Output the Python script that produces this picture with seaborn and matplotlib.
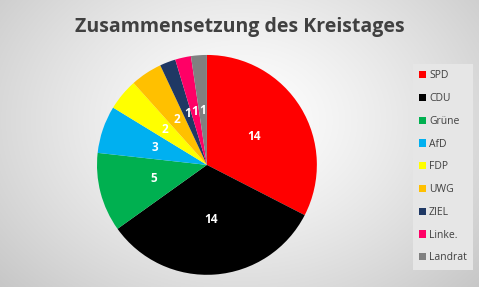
import numpy as np
import matplotlib
matplotlib.use("Agg")
import matplotlib.pyplot as plt
import seaborn as sns

parties = ["SPD", "CDU", "Grüne", "AfD", "FDP", "UWG", "ZIEL", "Linke.", "Landrat"]
seats = [14, 14, 5, 3, 2, 2, 1, 1, 1]
colors = ["#FF0000", "#000000", "#00B050", "#00B0F0", "#FFFF00",
          "#FFC000", "#1F3864", "#FF0066", "#808080"]
title = "Zusammensetzung des Kreistages"

sns.set_theme(style="white")
plt.rcParams['font.family'] = ['Open Sans', 'DejaVu Sans']
palette = sns.color_palette(colors)

fig = plt.figure(figsize=(4.79, 2.87), dpi=100)

# radial gradient background
bg = fig.add_axes([0, 0, 1, 1])
h, w = 287, 479
yy, xx = np.mgrid[0:h, 0:w]
cx, cy = 240, 120
d = np.sqrt(((xx - cx) / 300.0) ** 2 + ((yy - cy) / 230.0) ** 2)
val = 1.0 - 0.20 * np.clip(d, 0, 1.3) ** 1.3
img = np.dstack([val, val, val])
bg.imshow(img, aspect="auto", extent=[0, 1, 0, 1], origin="upper")
bg.set_axis_off()

fig.text(0.5, 0.905, title, ha="center", va="center", fontsize=14,
         fontweight="bold", color="#404040")

ax = fig.add_axes([0.2025, 0.042, 0.459, 0.767])
wedges, texts = ax.pie(seats, colors=palette, startangle=90, counterclock=False,
                       labels=[str(s) for s in seats], labeldistance=0.5,
                       textprops=dict(color="white", fontweight="bold", fontsize=8.5),
                       wedgeprops=dict(linewidth=0))
for t in texts:
    t.set_ha("center")
    t.set_va("center")
ax.set_aspect("equal")
ax.set_xlim(-1, 1)
ax.set_ylim(-1, 1)

leg = fig.legend(wedges, parties, loc="upper left", bbox_to_anchor=(0.862, 0.777),
                 fontsize=7.5, frameon=True, handlelength=0.7, handleheight=0.7,
                 handletextpad=0.25, labelspacing=1.13, borderpad=0.6,
                 borderaxespad=0, fancybox=False)
leg.get_frame().set_facecolor("#E6E6E6")
leg.get_frame().set_edgecolor("none")
leg.get_frame().set_alpha(1)
for t in leg.get_texts():
    t.set_color("#404040")

fig.savefig("out.png", dpi=100)
